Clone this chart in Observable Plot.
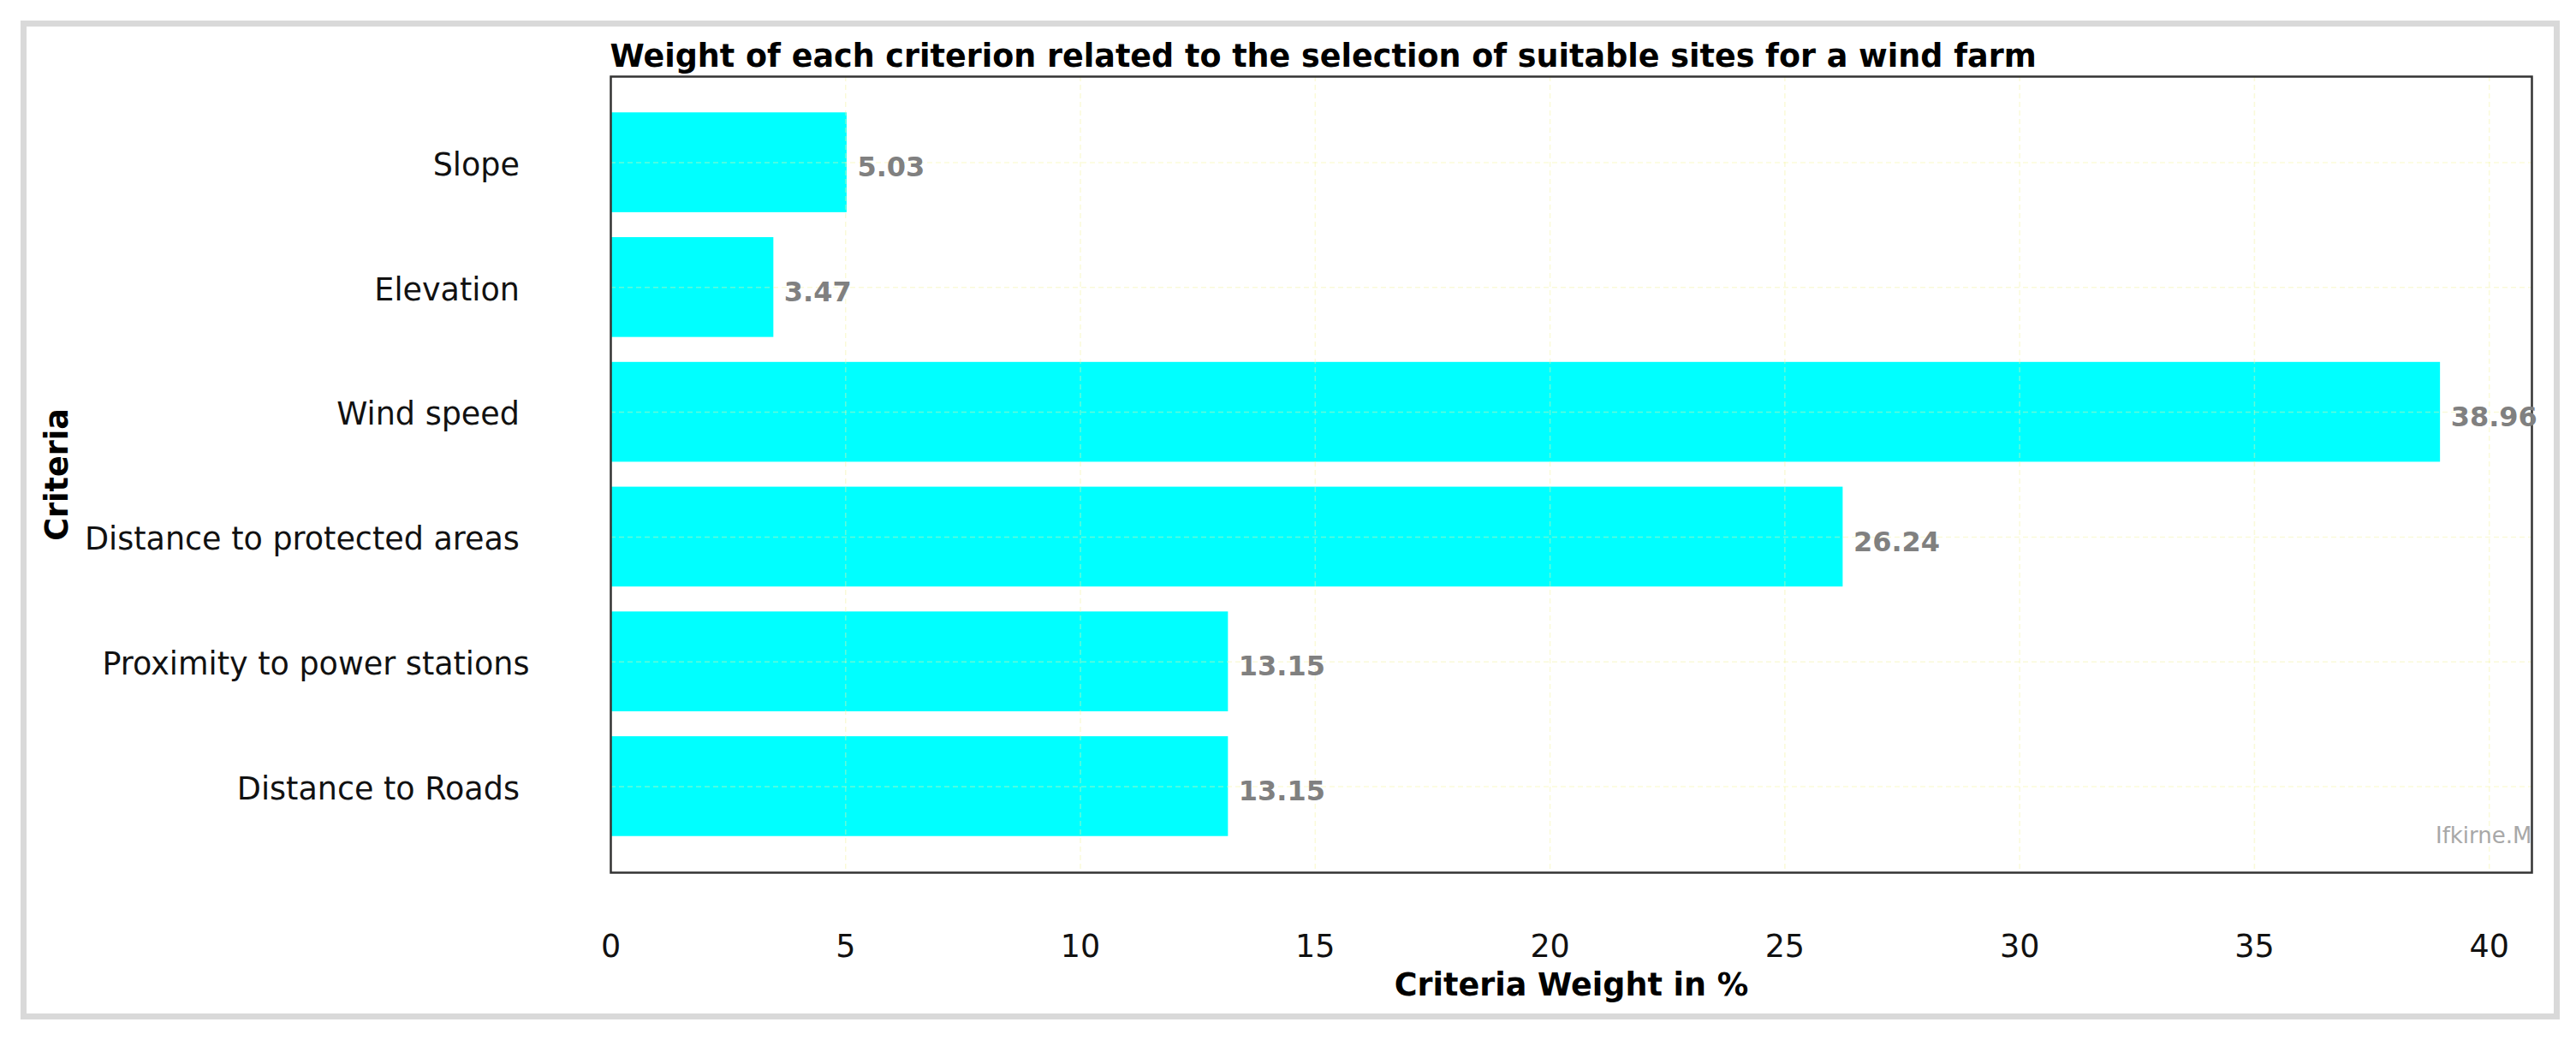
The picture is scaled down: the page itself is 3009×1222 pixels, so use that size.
<!DOCTYPE html>
<html>
<head>
<meta charset="utf-8">
<script src="https://cdn.jsdelivr.net/npm/d3@7"></script>
<script src="https://cdn.jsdelivr.net/npm/@observablehq/plot@0.6"></script>
<style>
  html, body { margin: 0; padding: 0; background: #ffffff; }
  #wrap { position: relative; width: 3009px; height: 1222px; overflow: hidden; }
  #border { position: absolute; left: 24px; top: 24px; width: 2966px; height: 1167px;
            box-sizing: border-box; border: 7px solid #d9d9d9; pointer-events: none; }
  #chart { position: absolute; left: 0; top: 0; }
  #chart svg text { white-space: pre; }
</style>
</head>
<body>
<div id="wrap"><div id="chart"></div><div id="border"></div></div>
<script>
// Data (top to bottom)
const criteria = ["Slope ", "Elevation ", "Wind speed ", "Distance to protected areas ", "Proximity to power stations", "Distance to Roads "];
const weights = [5.03, 3.47, 38.96, 26.24, 13.15, 13.15];
const xTicks = [0, 5, 10, 15, 20, 25, 30, 35, 40];
const titleText = "Weight of each criterion related to the selection of suitable sites for a wind farm";
const xLabel = "Criteria Weight in %";
const yLabel = "Criteria";
const watermark = "Ifkirne.M";

const table = criteria.map((c, i) => ({criterion: c, weight: weights[i]}));
const xMax = d3.max(weights) * 1.05;

const chart = Plot.plot({
  width: 3009,
  height: 1222,
  marginLeft: 713,
  marginRight: 52,
  marginTop: 89,
  marginBottom: 203,
  style: "font-family: 'DejaVu Sans', sans-serif; font-size: 36.5px; background: transparent; color: #000; overflow: visible;",
  x: {domain: [0, xMax], axis: null},
  y: {domain: criteria, paddingInner: 0.2, paddingOuter: 0.29, round: false, axis: null},
  marks: [
    Plot.barX(table, {x: "weight", y: "criterion", fill: "#00ffff"}),
    Plot.gridX(xTicks, {stroke: "#f2f2a0", strokeOpacity: 0.4, strokeDasharray: "6,4", strokeWidth: 1.5}),
    Plot.gridY(criteria, {stroke: "#f2f2a0", strokeOpacity: 0.4, strokeDasharray: "6,4", strokeWidth: 1.5}),
    Plot.frame({stroke: "#333333", strokeWidth: 2.5}),
    Plot.axisX(xTicks, {tickSize: 0, tickPadding: 73, fontSize: 36.5, label: null, fill: "#111"}),
    Plot.axisY(criteria, {tickSize: 0, tickPadding: 95, fontSize: 36.5, label: null, dy: 3, fill: "#111"}),
    Plot.text(table, {x: "weight", y: "criterion", text: d => d.weight.toFixed(2),
      textAnchor: "start", dx: 12, dy: 6, fill: "#808080", fontWeight: "bold", fontSize: 32}),
    Plot.text([titleText], {frameAnchor: "top-left", textAnchor: "start", lineAnchor: "bottom",
      dy: -12, dx: -1, fontWeight: "bold", fontSize: 36.5, fill: "#000"}),
    Plot.text([xLabel], {frameAnchor: "bottom", lineAnchor: "bottom", dy: 143,
      fontWeight: "bold", fontSize: 36.5, fill: "#000"}),
    Plot.text([yLabel], {frameAnchor: "left", textAnchor: "middle", rotate: -90, lineAnchor: "bottom", dx: -635,
      fontWeight: "bold", fontSize: 36.5, fill: "#000"}),
    Plot.text([watermark], {frameAnchor: "bottom-right", textAnchor: "end", lineAnchor: "bottom",
      dy: -35, dx: 0, fontSize: 26, fill: "#a8a8a8"})
  ]
});
document.getElementById("chart").appendChild(chart);
</script>
</body>
</html>
